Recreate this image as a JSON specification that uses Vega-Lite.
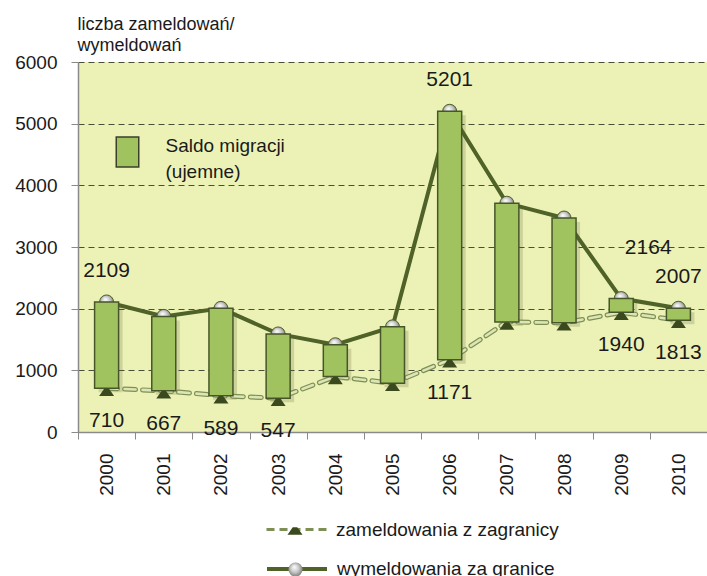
{
  "$schema": "https://vega.github.io/schema/vega-lite/v6.json",
  "width": 629,
  "height": 370,
  "autosize": {"type": "none"},
  "padding": {"left": 78, "top": 62, "right": 0, "bottom": 144},
  "background": "white",
  "config": {
    "font": "Liberation Sans",
    "view": {"stroke": null, "fill": "#ECF2B6"},
    "legend": {"padding": 0, "labelFontSize": 19, "labelColor": "#1a1a1a", "labelLimit": 500, "title": null}
  },
  "data": {
    "values": [
      {"year": "2000", "zam": 710, "wym": 2109},
      {"year": "2001", "zam": 667, "wym": 1875},
      {"year": "2002", "zam": 589, "wym": 2005},
      {"year": "2003", "zam": 547, "wym": 1590},
      {"year": "2004", "zam": 900, "wym": 1415},
      {"year": "2005", "zam": 790, "wym": 1705},
      {"year": "2006", "zam": 1171, "wym": 5201},
      {"year": "2007", "zam": 1785, "wym": 3710},
      {"year": "2008", "zam": 1770, "wym": 3470},
      {"year": "2009", "zam": 1940, "wym": 2164},
      {"year": "2010", "zam": 1813, "wym": 2007}
    ]
  },
  "encoding": {
    "x": {
      "field": "year", "type": "ordinal",
      "scale": {"paddingInner": 0, "paddingOuter": 0},
      "axis": {
        "title": null, "labelAngle": 270, "labelFontSize": 19, "labelColor": "#1a1a1a",
        "labelPadding": 14, "tickSize": 7, "tickColor": "#8a8a8a", "domainColor": "#8a8a8a",
        "domainWidth": 1.5, "tickBand": "extent", "grid": false
      }
    }
  },
  "layer": [
    {
      "mark": {"type": "bar", "width": 24, "xOffset": 4, "yOffset": 4, "y2Offset": 4, "fill": "#5a6030", "opacity": 0.22},
      "encoding": {
        "y": {
          "field": "wym", "type": "quantitative",
          "scale": {"domain": [0, 6000], "nice": false},
          "axis": {
            "values": [0, 1000, 2000, 3000, 4000, 5000, 6000],
            "format": "d",
            "title": ["liczba zameldowań/", "wymeldowań"],
            "titleAngle": 0, "titleAlign": "left", "titleBaseline": "top",
            "titleX": -1, "titleY": -47, "titleFontSize": 18, "titleFontWeight": "normal",
            "titleLineHeight": 21, "titleColor": "#1a1a1a",
            "labelFontSize": 19, "labelColor": "#1a1a1a", "labelPadding": 14,
            "tickSize": 7, "tickColor": "#8a8a8a", "domainColor": "#8a8a8a", "domainWidth": 1.5,
            "grid": true, "gridDash": [6, 4], "gridColor": "#4a4f3a", "gridWidth": 1.2
          }
        },
        "y2": {"field": "zam"}
      }
    },
    {
      "mark": {"type": "line", "strokeWidth": 5, "strokeDash": [11, 7], "strokeCap": "round"},
      "encoding": {
        "y": {"field": "zam", "type": "quantitative"},
        "stroke": {
          "datum": "zameldowania z zagranicy", "type": "nominal",
          "scale": {"range": ["#7E8F55"]},
          "legend": {
            "orient": "none", "legendX": 187, "legendY": 436,
            "symbolType": "stroke", "symbolSize": 3600, "symbolStrokeWidth": 3,
            "symbolDash": [8, 5], "labelOffset": 8
          }
        }
      }
    },
    {
      "mark": {"type": "line", "strokeWidth": 2.6, "strokeDash": [11, 7], "strokeCap": "round", "stroke": "#DCE5B4"},
      "encoding": {"y": {"field": "zam", "type": "quantitative"}}
    },
    {
      "mark": {"type": "line", "strokeWidth": 4},
      "encoding": {
        "y": {"field": "wym", "type": "quantitative"},
        "stroke": {
          "datum": "wymeldowania za granice", "type": "nominal",
          "scale": {"range": ["#4F6228"]},
          "legend": {
            "orient": "none", "legendX": 187, "legendY": 475,
            "symbolType": "stroke", "symbolSize": 3600, "symbolStrokeWidth": 4,
            "labelOffset": 8
          }
        }
      }
    },
    {
      "mark": {
        "type": "point", "filled": true, "size": 196, "stroke": "#4F6228", "strokeWidth": 1,
        "fill": {"gradient": "radial", "x1": 0.4, "y1": 0.3, "r1": 0, "x2": 0.5, "y2": 0.5, "r2": 0.6,
          "stops": [{"offset": 0, "color": "#ffffff"}, {"offset": 0.5, "color": "#c8c8c8"}, {"offset": 1, "color": "#6a6a6a"}]},
        "opacity": 1
      },
      "encoding": {
        "y": {"field": "wym", "type": "quantitative"},
        "shape": {
          "datum": "wymeldowania za granice", "type": "nominal",
          "scale": {"range": ["circle"]},
          "legend": {
            "orient": "none", "legendX": 208, "legendY": 498,
            "symbolSize": 196, "symbolFillColor": "#BDBDBD", "symbolStrokeColor": "#4F6228",
            "symbolStrokeWidth": 1, "labelExpr": "''", "labelOffset": 0
          }
        }
      }
    },
    {
      "mark": {"type": "bar", "width": 24, "stroke": "#46562A", "strokeWidth": 1.5},
      "encoding": {
        "y": {"field": "wym", "type": "quantitative"},
        "y2": {"field": "zam"},
        "fill": {
          "datum": "Saldo migracji (ujemne)", "type": "nominal",
          "scale": {"range": ["#A0C35F"]},
          "legend": {
            "orient": "none", "legendX": 33.5, "legendY": 74,
            "symbolType": "M-0.75,-1H0.75V1H-0.75Z", "symbolSize": 900,
            "symbolStrokeColor": "#3a3f2a", "symbolStrokeWidth": 1.5,
            "labelOffset": 22,
            "labelExpr": "['Saldo migracji', '(ujemne)']",
            "encode": {"labels": {"update": {"lineHeight": {"value": 26}, "dy": {"value": -6}}}}
          }
        }
      }
    },
    {
      "mark": {"type": "point", "filled": true, "size": 225, "yOffset": 4, "fill": "#3B4A1E", "strokeWidth": 0, "opacity": 1},
      "encoding": {
        "y": {"field": "zam", "type": "quantitative"},
        "shape": {
          "datum": "zameldowania z zagranicy", "type": "nominal",
          "scale": {"range": ["M-1,0.5L-0.3,-0.5L0.3,-0.5L1,0.5Z"]},
          "legend": {
            "orient": "none", "legendX": 207.5, "legendY": 459.5,
            "symbolSize": 225, "symbolFillColor": "#3B4A1E", "symbolStrokeWidth": 0,
            "labelExpr": "''", "labelOffset": 0
          }
        }
      }
    },
    {
      "transform": [{"filter": {"field": "year", "oneOf": ["2000", "2006", "2010"]}}],
      "mark": {"type": "text", "dy": -31, "fontSize": 21, "color": "#1a1a1a"},
      "encoding": {
        "y": {"field": "wym", "type": "quantitative"},
        "text": {"field": "wym", "type": "quantitative", "format": "d"}
      }
    },
    {
      "transform": [{"filter": {"field": "year", "oneOf": ["2009"]}}],
      "mark": {"type": "text", "dy": -51, "dx": 27, "fontSize": 21, "color": "#1a1a1a"},
      "encoding": {
        "y": {"field": "wym", "type": "quantitative"},
        "text": {"field": "wym", "type": "quantitative", "format": "d"}
      }
    },
    {
      "transform": [{"filter": {"field": "year", "oneOf": ["2000", "2001", "2002", "2003", "2006", "2009", "2010"]}}],
      "mark": {"type": "text", "dy": 33, "fontSize": 21, "color": "#1a1a1a"},
      "encoding": {
        "y": {"field": "zam", "type": "quantitative"},
        "text": {"field": "zam", "type": "quantitative", "format": "d"}
      }
    }
  ],
  "resolve": {
    "scale": {"stroke": "independent", "fill": "independent", "shape": "independent"},
    "legend": {"stroke": "independent", "fill": "independent", "shape": "independent"}
  }
}
